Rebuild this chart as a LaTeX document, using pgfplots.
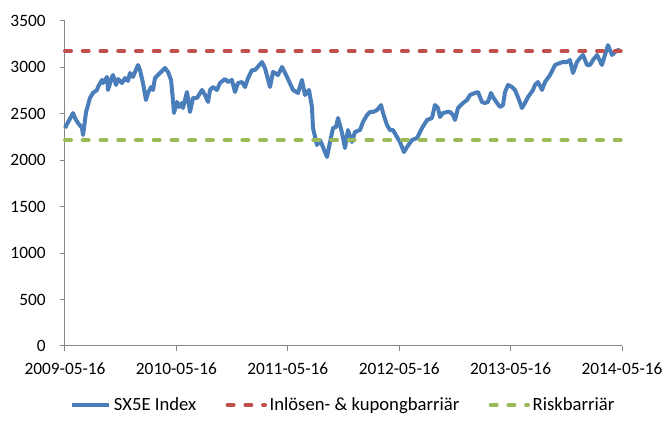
\documentclass[border=0pt]{standalone}
\usepackage{pgfplots}
\pgfplotsset{compat=1.18}
\usepackage{pgfplotstable}
\usepackage{fontspec}
\setmainfont{Carlito}
\definecolor{sxblue}{HTML}{4A7EBB}
\definecolor{exred}{HTML}{C0504D}
\definecolor{exgreen}{HTML}{9BBB59}
\definecolor{axgray}{HTML}{868686}
\pgfplotstableread{
t v
0.000 2348
0.072 2509
0.090 2455
0.117 2401
0.153 2348
0.162 2272
0.189 2520
0.224 2671
0.251 2725
0.287 2757
0.296 2789
0.332 2865
0.341 2832
0.377 2897
0.386 2757
0.422 2897
0.431 2918
0.458 2811
0.476 2875
0.512 2832
0.539 2886
0.566 2854
0.583 2940
0.610 2897
0.655 3026
0.673 2972
0.700 2832
0.727 2649
0.745 2725
0.772 2789
0.790 2757
0.808 2886
0.835 2918
0.898 2994
0.925 2951
0.952 2865
0.969 2649
0.978 2509
1.005 2628
1.023 2574
1.050 2617
1.059 2563
1.095 2735
1.122 2520
1.149 2671
1.185 2671
1.230 2757
1.257 2703
1.284 2628
1.302 2757
1.329 2789
1.364 2757
1.391 2832
1.436 2875
1.463 2843
1.499 2865
1.526 2735
1.553 2832
1.589 2843
1.616 2789
1.643 2886
1.679 2972
1.706 2972
1.768 3058
1.795 2994
1.840 2789
1.867 2951
1.885 2940
1.912 2918
1.948 3005
1.993 2897
2.047 2757
2.092 2725
2.127 2865
2.154 2703
2.190 2757
2.217 2574
2.226 2348
2.262 2165
2.289 2218
2.316 2143
2.352 2035
2.379 2197
2.406 2348
2.433 2358
2.451 2455
2.487 2294
2.513 2132
2.540 2326
2.576 2197
2.603 2305
2.648 2326
2.675 2412
2.711 2488
2.738 2520
2.765 2520
2.801 2541
2.837 2595
2.855 2509
2.890 2380
2.917 2326
2.944 2326
2.980 2251
3.007 2197
3.043 2089
3.070 2143
3.115 2218
3.160 2240
3.205 2348
3.250 2434
3.294 2455
3.321 2595
3.348 2563
3.366 2466
3.393 2509
3.429 2520
3.456 2520
3.483 2488
3.501 2434
3.528 2563
3.573 2617
3.609 2649
3.636 2703
3.680 2725
3.707 2735
3.743 2628
3.770 2617
3.797 2628
3.824 2725
3.842 2681
3.878 2617
3.905 2574
3.932 2595
3.950 2735
3.977 2811
4.013 2789
4.039 2757
4.066 2681
4.102 2563
4.129 2617
4.156 2681
4.201 2757
4.219 2811
4.246 2843
4.282 2757
4.309 2843
4.354 2918
4.399 3026
4.443 3048
4.470 3058
4.506 3058
4.533 3080
4.560 2940
4.596 3058
4.623 3101
4.650 3134
4.686 3026
4.713 3026
4.740 3080
4.776 3134
4.820 3026
4.847 3134
4.874 3240
4.910 3134
4.937 3166
4.964 3188
4.982 3177
}\sxdata
\begin{document}
\begin{tikzpicture}
\path[use as bounding box] (-48.75pt,-60.75pt) rectangle (452.25pt,259.5pt);
\begin{axis}[
  at={(0,0)}, anchor=south west,
  scale only axis, width=417.75pt, height=243.75pt,
  xmin=0, xmax=5, ymin=0, ymax=3500,
  axis x line*=bottom, axis y line*=left,
  axis line style={axgray, line width=0.75pt},
  xtick={0,1,2,3,4,5},
  xticklabels={2009-05-16,2010-05-16,2011-05-16,2012-05-16,2013-05-16,2014-05-16},
  ytick={0,500,...,3500},
  tick align=outside, major tick length=4pt,
  tick style={axgray, line width=0.75pt},
  ticklabel style={font=\fontsize{13}{15}\selectfont},
  xticklabel style={yshift=-5pt},
  yticklabel style={xshift=-7pt},
  /pgf/number format/assume math mode=true,
  /pgf/number format/1000 sep={},
  legend columns=3,
  legend style={at={(0.5,-0.1815)}, anchor=center, draw=none, fill=none,
    font=\fontsize{14}{16}\selectfont,
    /tikz/every even column/.append style={column sep=20pt}},
  legend image code/.code={\draw[#1] (0pt,0pt) -- (28pt,0pt);},
  clip=false,
]
\addplot[sxblue, line width=3pt, line join=round] table[x=t, y=v] {\sxdata};
\addlegendentry{SX5E Index}
\addplot[exred, line width=3pt, line cap=round, dash pattern=on 4.5pt off 8.8pt] coordinates {(0,3177) (4.99,3177)};
\addlegendentry{Inlösen- \& kupongbarriär}
\addplot[exgreen, line width=3pt, line cap=round, dash pattern=on 4.5pt off 8.8pt] coordinates {(0,2218) (4.99,2218)};
\addlegendentry{Riskbarriär}
\end{axis}
\end{tikzpicture}
\end{document}
